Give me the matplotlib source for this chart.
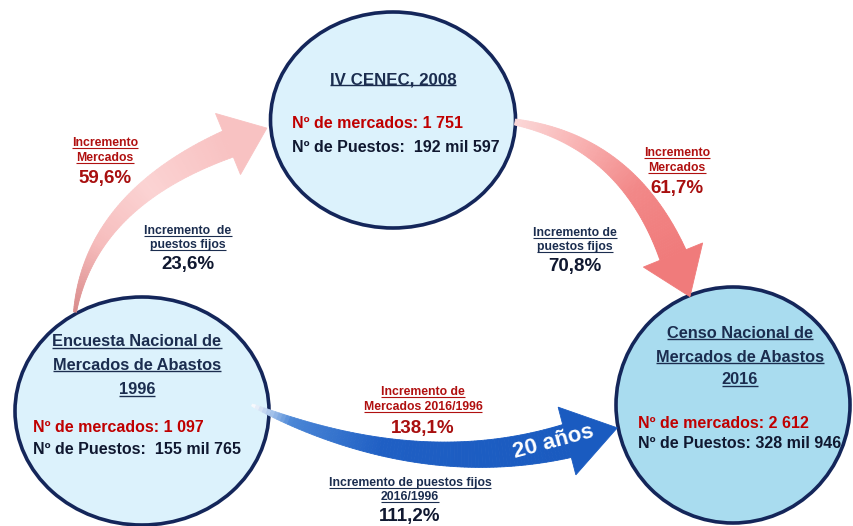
import numpy as np
import matplotlib
matplotlib.use("Agg")
import matplotlib.pyplot as plt
from matplotlib.patches import Ellipse, Polygon
from matplotlib.colors import to_rgb

# --- content of the diagram ---
circle_titles = [
    ["IV CENEC, 2008"],
    ["Encuesta Nacional de", "Mercados de Abastos", "1996"],
    ["Censo Nacional de", "Mercados de Abastos", "2016"],
]
n_mercados = ["1 751", "1 097", "2 612"]
n_puestos = ["192 mil 597", "155 mil 765", "328 mil 946"]

inc_merc_labels = [["Incremento", "Mercados"], ["Incremento", "Mercados"],
                   ["Incremento de", "Mercados 2016/1996"]]
inc_merc_values = ["59,6%", "61,7%", "138,1%"]
inc_pue_labels = [["Incremento  de", "puestos fijos"], ["Incremento de", "puestos fijos"],
                  ["Incremento de puestos fijos", "2016/1996"]]
inc_pue_values = ["23,6%", "70,8%", "111,2%"]
periodo = "20 años"

# --- layout (pixel coordinates, y down) ---
circ_center = [(393, 120), (142, 411), (733, 405)]
circ_size = [(245, 216), (254, 228), (234, 236)]
circ_fill = ["#dcf2fc", "#dcf2fc", "#a9dcef"]
title_y = [[80], [342, 365, 390], [333, 357, 380]]
title_x = [393, 137, 740]
title_fs = [12.2, 11.8, 11.8]
stat_x = [292, 33, 638]
stat_y = [(123, 148), (428, 450), (423, 443)]

merc_pos = [(105, 143), (677, 153), (423, 392)]
pue_pos = [(188, 231), (575, 233), (410, 483)]

RED = "#c00000"
NAVY = "#1b2d4f"
DARK = "#101830"
SANS = ["Liberation Sans", "DejaVu Sans"]

fig = plt.figure(figsize=(8.54, 5.26), dpi=100)
ax = fig.add_axes([0, 0, 1, 1])
ax.set_xlim(0, 854)
ax.set_ylim(526, 0)
ax.axis("off")


def bezier(p0, p1, p2, n=90):
    t = np.linspace(0, 1, n)[:, None]
    p0, p1, p2 = map(np.array, (p0, p1, p2))
    pts = (1 - t) ** 2 * p0 + 2 * (1 - t) * t * p1 + t ** 2 * p2
    der = 2 * (1 - t) * (p1 - p0) + 2 * t * (p2 - p1)
    return pts, der, t[:, 0]


def curved_arrow(p0, p1, p2, w0, w1, head_w, head_len, colors, stops=None,
                 gamma=1.0, z=3):
    pts, der, t = bezier(p0, p1, p2)
    nrm = np.stack([-der[:, 1], der[:, 0]], axis=1)
    nrm /= np.linalg.norm(nrm, axis=1)[:, None]
    w = w0 + (w1 - w0) * t ** gamma
    left = pts + nrm * (w[:, None] / 2)
    right = pts - nrm * (w[:, None] / 2)
    if stops is None:
        stops = np.linspace(0, 1, len(colors))
    cols = np.array([to_rgb(c) for c in colors])
    for i in range(len(t) - 1):
        tm = (t[i] + t[i + 1]) / 2
        c = [np.interp(tm, stops, cols[:, k]) for k in range(3)]
        quad = [left[i], left[i + 1], right[i + 1], right[i]]
        ax.add_patch(Polygon(quad, closed=True, facecolor=c, edgecolor=c,
                             lw=0.6, zorder=z))
    d = der[-1] / np.linalg.norm(der[-1])
    n = np.array([-d[1], d[0]])
    base = pts[-1]
    tip = base + d * head_len
    head = [base + n * head_w, tip, base - n * head_w]
    ax.add_patch(Polygon(head, closed=True, facecolor=colors[-1],
                         edgecolor=colors[-1], lw=0.6, zorder=z))


# arrows
curved_arrow((75, 312), (91, 200), (228, 144), 3, 28, 33, 42,
             ["#d98a8a", "#f6bcbc", "#fbd3d3", "#f8c2c2"], z=3)
curved_arrow((515, 122), (627, 142), (673, 255), 6, 28, 32, 45,
             ["#fbd8d8", "#f8b0b0", "#f28888", "#f07b7b"], z=3)
curved_arrow((252, 405), (418, 480), (567, 441), 2, 34, 35, 52,
             ["#ffffff", "#4a86d6", "#1f5fc4", "#1a5bc0"],
             stops=[0, 0.12, 0.4, 1], gamma=0.75, z=3)

# circles
for (cx, cy), (w, h), fc in zip(circ_center, circ_size, circ_fill):
    ax.add_patch(Ellipse((cx, cy), w, h, facecolor=fc, edgecolor="#14265a",
                         lw=2.6, zorder=2))

underlined = []


def label(x, y, s, size, color, ha="center", under=False, **kw):
    t = ax.text(x, y, s, fontsize=size, color=color, family=SANS,
                fontweight="bold", ha=ha, va="center", zorder=5, **kw)
    if under:
        underlined.append(t)
    return t


for i in range(3):
    for line, y in zip(circle_titles[i], title_y[i]):
        label(title_x[i], y, line, title_fs[i], NAVY, under=True)
    label(stat_x[i], stat_y[i][0], "Nº de mercados: " + n_mercados[i], 11.5,
          RED, ha="left")
    sep = " " if i == 2 else "  "
    label(stat_x[i], stat_y[i][1], "Nº de Puestos:" + sep + n_puestos[i], 11.5,
          DARK, ha="left")

for i in range(3):
    x, y = merc_pos[i]
    for k, line in enumerate(inc_merc_labels[i]):
        label(x, y + k * 15, line, 8.8, "#b01010", under=True)
    label(x, y + 36, inc_merc_values[i], 13.5, "#a80f0f")
    x, y = pue_pos[i]
    for k, line in enumerate(inc_pue_labels[i]):
        label(x, y + k * 14, line, 8.8, NAVY, under=True)
    label(x, y + 34, inc_pue_values[i], 13.5, DARK)

label(553, 442, periodo, 16, "white", rotation=15)

# underline the titles
fig.canvas.draw()
r = fig.canvas.get_renderer()
inv = ax.transData.inverted()
for t in underlined:
    bb = t.get_window_extent(r)
    fs = t.get_fontsize() * 100 / 72
    yb = bb.y0 + 0.12 * fs
    (x0, y0), (x1, _) = inv.transform([(bb.x0, yb), (bb.x1, yb)])
    ax.plot([x0, x1], [y0, y0], color=t.get_color(),
            lw=max(0.8, fs * 0.06), zorder=5, solid_capstyle="butt")

fig.savefig("out.png", dpi=100)
